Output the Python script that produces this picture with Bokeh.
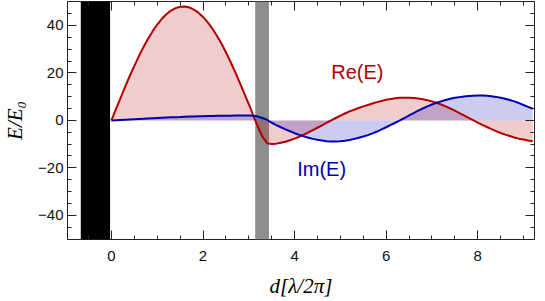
from bokeh.plotting import figure
from bokeh.models import Range1d, LinearAxis, Label, FixedTicker, CustomLabelingPolicy
from bokeh.embed import file_html
from bokeh.resources import INLINE

# ---- data ----
d = [0.0, 0.1, 0.2, 0.3, 0.4, 0.5, 0.6, 0.7, 0.8, 0.9,
     1.0, 1.1, 1.2, 1.3, 1.4, 1.5, 1.6, 1.7, 1.8, 1.9,
     2.0, 2.1, 2.2, 2.3, 2.4, 2.5, 2.6, 2.7, 2.8, 2.9,
     3.0, 3.1, 3.2, 3.3, 3.4, 3.5, 3.6, 3.7, 3.8, 3.9,
     4.0, 4.1, 4.2, 4.3, 4.4, 4.5, 4.6, 4.7, 4.8, 4.9,
     5.0, 5.1, 5.2, 5.3, 5.4, 5.5, 5.6, 5.7, 5.8, 5.9,
     6.0, 6.1, 6.2, 6.3, 6.4, 6.5, 6.6, 6.7, 6.8, 6.9,
     7.0, 7.1, 7.2, 7.3, 7.4, 7.5, 7.6, 7.7, 7.8, 7.9,
     8.0, 8.1, 8.2, 8.3, 8.4, 8.5, 8.6, 8.7, 8.8, 8.9,
     9.0, 9.1, 9.2]

re_E = [0.0, 4.8, 9.5, 14.2, 18.7, 23.0, 27.1, 30.9, 34.4, 37.6,
        40.4, 42.8, 44.7, 46.3, 47.3, 47.9, 48.0, 47.6, 46.7, 45.4,
        43.6, 41.4, 38.8, 35.8, 32.5, 28.7, 24.7, 20.5, 16.0, 11.4,
        6.8, 2.0, -2.8, -7.0, -9.6, -10.0, -9.8, -9.4, -9.0, -8.4,
        -7.7, -6.9, -6.0, -5.1, -4.1, -3.1, -2.1, -1.0, 0.0, 1.0,
        2.0, 2.9, 3.8, 4.5, 5.2, 5.9, 6.5, 7.1, 7.7, 8.2,
        8.7, 9.0, 9.3, 9.5, 9.5, 9.5, 9.4, 9.2, 8.9, 8.5,
        8.0, 7.4, 6.7, 5.9, 5.0, 4.1, 3.1, 2.1, 1.1, 0.1,
        -0.9, -1.9, -2.8, -3.7, -4.5, -5.3, -6.0, -6.6, -7.2, -7.7,
        -8.1, -8.5, -8.8]

im_E = [0.0, 0.1, 0.2, 0.3, 0.4, 0.5, 0.6, 0.7, 0.8, 0.9,
        1.0, 1.1, 1.2, 1.3, 1.35, 1.4, 1.5, 1.6, 1.65, 1.7,
        1.75, 1.8, 1.85, 1.9, 1.95, 2.0, 2.0, 2.05, 2.05, 2.1,
        2.1, 2.0, 1.6, 1.0, 0.2, -1.0, -2.0, -2.9, -3.8, -4.6,
        -5.4, -6.1, -6.7, -7.3, -7.8, -8.2, -8.5, -8.8, -8.9, -8.9,
        -8.8, -8.6, -8.3, -7.8, -7.3, -6.8, -6.2, -5.5, -4.7, -3.8,
        -2.9, -1.9, -1.0, 0.0, 1.0, 2.1, 3.1, 4.1, 5.0, 5.9,
        6.7, 7.4, 8.0, 8.6, 9.1, 9.5, 9.8, 10.1, 10.3, 10.4,
        10.5, 10.5, 10.4, 10.2, 9.9, 9.5, 9.1, 8.6, 8.0, 7.3,
        6.5, 5.7, 4.9]

mirror_x = [-0.67, -0.03]      # black region
slab_x = [3.14, 3.44]          # gray region

x_lim = [-0.96, 9.24]
y_lim = [-50.2, 50.1]
x_major = [0, 2, 4, 6, 8]
x_minor = [-0.5, 0.5, 1.0, 1.5, 2.5, 3.0, 3.5, 4.5, 5.0, 5.5, 6.5, 7.0, 7.5, 8.5, 9.0]
y_major = [-40, -20, 0, 20, 40]
y_minor = [-50, -45, -35, -30, -25, -15, -10, -5, 5, 10, 15, 25, 30, 35, 45, 50]
y_tick_text = {-40: "\u221240", -20: "\u221220", 0: "0", 20: "20", 40: "40"}

re_label = ("Re(E)", 5.37, 20.5)
im_label = ("Im(E)", 4.59, -20.5)

RED = "#b20000"
BLUE = "#0000b2"

p = figure(frame_width=467, frame_height=238,
           x_range=Range1d(*x_lim), y_range=Range1d(*y_lim),
           output_backend="svg", toolbar_location=None,
           x_axis_location=None, y_axis_location=None,
           min_border_left=65, min_border_top=1, min_border_right=4, min_border_bottom=0)
p.background_fill_color = "white"
p.border_fill_color = "white"
p.grid.visible = False
p.outline_line_color = "#222222"
p.outline_line_width = 1

xt = FixedTicker(ticks=x_major, minor_ticks=x_minor)
yt = FixedTicker(ticks=y_major, minor_ticks=y_minor)

no_labels = CustomLabelingPolicy(code="""
    const all = [...indices]
    for (const i of all) indices.unset(i)
    return indices
""")

def style(ax, labels=True):
    ax.axis_line_color = None
    ax.major_tick_in = 9
    ax.major_tick_out = 0
    ax.minor_tick_in = 4
    ax.minor_tick_out = 0
    ax.major_tick_line_color = "#222222"
    ax.minor_tick_line_color = "#222222"
    if labels:
        ax.major_label_text_font = "Liberation Sans"
        ax.major_label_text_font_size = "15px"
        ax.major_label_text_color = "#111111"
    else:
        ax.major_label_policy = no_labels
        ax.major_label_text_font_size = "0px"
        ax.major_label_standoff = 0

bottom = LinearAxis(ticker=xt, axis_label="d[\u03bb/2\u03c0]")
style(bottom)
bottom.major_label_standoff = 11
bottom.axis_label_standoff = 10
bottom.axis_label_text_font = "Liberation Serif"
bottom.axis_label_text_font_style = "italic"
bottom.axis_label_text_font_size = "21px"
bottom.axis_label_text_color = "black"
p.add_layout(bottom, "below")

left = LinearAxis(ticker=yt, axis_label="E/E\u2080", major_label_overrides=y_tick_text)
style(left)
left.major_label_standoff = 4
left.axis_label_standoff = 8
left.axis_label_text_font = "Liberation Serif"
left.axis_label_text_font_style = "italic"
left.axis_label_text_font_size = "21px"
left.axis_label_text_color = "black"
p.add_layout(left, "left")

top = LinearAxis(ticker=xt)
style(top, labels=False)
p.add_layout(top, "above")
right = LinearAxis(ticker=yt)
style(right, labels=False)
p.add_layout(right, "right")

# regions
p.quad(left=[mirror_x[0]], right=[mirror_x[1]], bottom=[y_lim[0]], top=[y_lim[1]],
       fill_color="black", line_color=None)
p.quad(left=[slab_x[0]], right=[slab_x[1]], bottom=[y_lim[0]], top=[y_lim[1]],
       fill_color="#8e8e8e", line_color=None)

# fills to axis
p.varea(x=d, y1=[0] * len(d), y2=re_E, fill_color=RED, fill_alpha=0.2)
p.varea(x=d, y1=[0] * len(d), y2=im_E, fill_color=BLUE, fill_alpha=0.2)

p.line(d, re_E, line_color=RED, line_width=2)
p.line(d, im_E, line_color=BLUE, line_width=2)

p.add_layout(Label(x=re_label[1], y=re_label[2], text=re_label[0], text_align="center",
                   text_baseline="middle", text_color=RED, text_font="Liberation Sans",
                   text_font_size="20px"))
p.add_layout(Label(x=im_label[1], y=im_label[2], text=im_label[0], text_align="center",
                   text_baseline="middle", text_color=BLUE, text_font="Liberation Sans",
                   text_font_size="20px"))

open("out.html", "w").write(file_html(p, INLINE))
